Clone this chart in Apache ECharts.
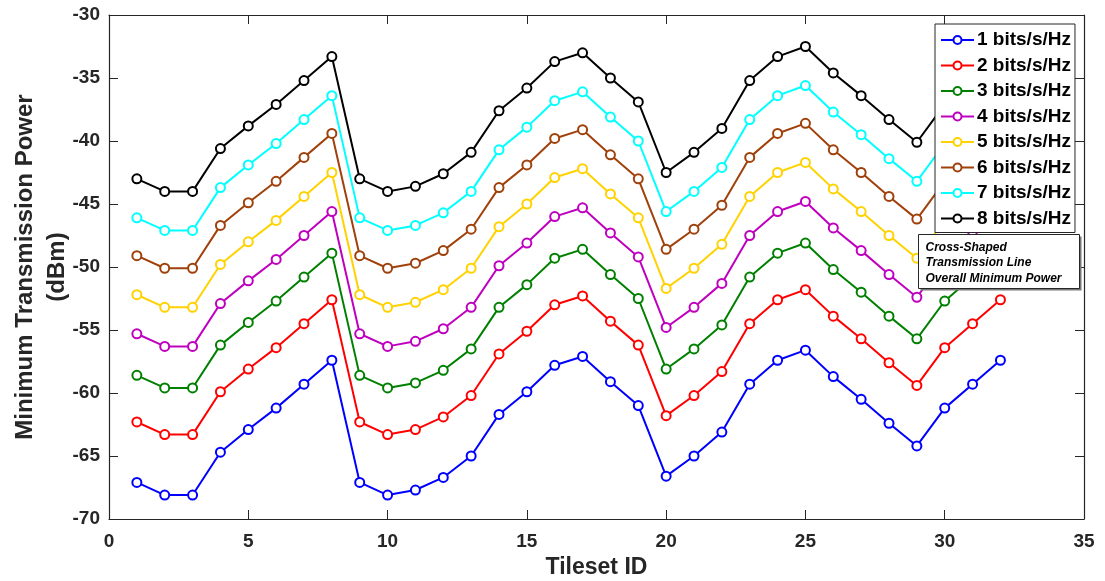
<!DOCTYPE html>
<html>
<head>
<meta charset="utf-8">
<script src="https://cdn.jsdelivr.net/npm/echarts@6/dist/echarts.min.js"></script>
<style>html,body{margin:0;padding:0;background:#fff;}#chart{width:1105px;height:581px;}</style>
</head>
<body>
<div id="chart"></div>
<script>
const tileIds = [1,2,3,4,5,6,7,8,9,10,11,12,13,14,15,16,17,18,19,20,21,22,23,24,25,26,27,28,29,30,31,32];
const seriesNames = ['1 bits/s/Hz','2 bits/s/Hz','3 bits/s/Hz','4 bits/s/Hz','5 bits/s/Hz','6 bits/s/Hz','7 bits/s/Hz','8 bits/s/Hz'];
const rate1 = [-67.1,-68.1,-68.1,-64.7,-62.9,-61.2,-59.3,-57.4,-67.1,-68.1,-67.7,-66.7,-65.0,-61.7,-59.9,-57.8,-57.1,-59.1,-61.0,-66.6,-65.0,-63.1,-59.3,-57.4,-56.6,-58.7,-60.5,-62.4,-64.2,-61.2,-59.3,-57.4];
const rate2 = [-62.3,-63.3,-63.3,-59.9,-58.1,-56.4,-54.5,-52.6,-62.3,-63.3,-62.9,-61.9,-60.2,-56.9,-55.1,-53.0,-52.3,-54.3,-56.2,-61.8,-60.2,-58.3,-54.5,-52.6,-51.8,-53.9,-55.7,-57.6,-59.4,-56.4,-54.5,-52.6];
const rate3 = [-58.6,-59.6,-59.6,-56.2,-54.4,-52.7,-50.8,-48.9,-58.6,-59.6,-59.2,-58.2,-56.5,-53.2,-51.4,-49.3,-48.6,-50.6,-52.5,-58.1,-56.5,-54.6,-50.8,-48.9,-48.1,-50.2,-52.0,-53.9,-55.7,-52.7,-50.8,-48.9];
const rate4 = [-55.3,-56.3,-56.3,-52.9,-51.1,-49.4,-47.5,-45.6,-55.3,-56.3,-55.9,-54.9,-53.2,-49.9,-48.1,-46.0,-45.3,-47.3,-49.2,-54.8,-53.2,-51.3,-47.5,-45.6,-44.8,-46.9,-48.7,-50.6,-52.4,-49.4,-47.5,-45.6];
const rate5 = [-52.2,-53.2,-53.2,-49.8,-48.0,-46.3,-44.4,-42.5,-52.2,-53.2,-52.8,-51.8,-50.1,-46.8,-45.0,-42.9,-42.2,-44.2,-46.1,-51.7,-50.1,-48.2,-44.4,-42.5,-41.7,-43.8,-45.6,-47.5,-49.3,-46.3,-44.4,-42.5];
const rate6 = [-49.1,-50.1,-50.1,-46.7,-44.9,-43.2,-41.3,-39.4,-49.1,-50.1,-49.7,-48.7,-47.0,-43.7,-41.9,-39.8,-39.1,-41.1,-43.0,-48.6,-47.0,-45.1,-41.3,-39.4,-38.6,-40.7,-42.5,-44.4,-46.2,-43.2,-41.3,-39.4];
const rate7 = [-46.1,-47.1,-47.1,-43.7,-41.9,-40.2,-38.3,-36.4,-46.1,-47.1,-46.7,-45.7,-44.0,-40.7,-38.9,-36.8,-36.1,-38.1,-40.0,-45.6,-44.0,-42.1,-38.3,-36.4,-35.6,-37.7,-39.5,-41.4,-43.2,-40.2,-38.3,-36.4];
const rate8 = [-43.0,-44.0,-44.0,-40.6,-38.8,-37.1,-35.2,-33.3,-43.0,-44.0,-43.6,-42.6,-40.9,-37.6,-35.8,-33.7,-33.0,-35.0,-36.9,-42.5,-40.9,-39.0,-35.2,-33.3,-32.5,-34.6,-36.4,-38.3,-40.1,-37.1,-35.2,-33.3];
const annotationLines = ['Cross-Shaped','Transmission Line','Overall Minimum Power'];

const allRates = [rate1,rate2,rate3,rate4,rate5,rate6,rate7,rate8];
const colors = ['#0000FF','#FF0000','#008000','#BF00BF','#FFD200','#A0400A','#00FFFF','#000000'];
const axisColor = '#262626';
const font = '"Liberation Sans", Arial, sans-serif';

const chart = echarts.init(document.getElementById('chart'), null, {renderer:'canvas'});

const series = allRates.map((vals, i) => ({
  name: seriesNames[i],
  type: 'line',
  data: tileIds.map((x, j) => [x, vals[j]]),
  symbol: 'emptyCircle',
  symbolSize: 9,
  showAllSymbol: true,
  z: 2,
  lineStyle: {color: colors[i], width: 2},
  itemStyle: {color: colors[i], borderColor: colors[i], borderWidth: 2},
  emphasis: {disabled: true},
  animation: false
}));

const tickStyle = {show: true, inside: true, length: 9, lineStyle: {color: axisColor, width: 1}};
const lineStyleAxis = {show: true, onZero: false, lineStyle: {color: axisColor, width: 1.2}};

chart.setOption({
  backgroundColor: '#fff',
  animation: false,
  textStyle: {fontFamily: font},
  grid: {left: 109, right: 21, top: 15, bottom: 62, containLabel: false, outerBoundsMode: 'none'},
  xAxis: [{
    type: 'value', min: 0, max: 35, interval: 5, position: 'bottom',
    axisLine: lineStyleAxis, axisTick: tickStyle, splitLine: {show: false},
    axisLabel: {color: axisColor, fontSize: 19, fontWeight: 'bold', fontFamily: font, margin: 13},
    name: 'Tileset ID', nameLocation: 'middle', nameGap: 34,
    nameTextStyle: {color: axisColor, fontSize: 23, fontWeight: 'bold', fontFamily: font}
  }, {
    type: 'value', min: 0, max: 35, interval: 5, position: 'top',
    axisLine: lineStyleAxis, axisTick: tickStyle, splitLine: {show: false},
    axisLabel: {show: false}
  }],
  yAxis: [{
    type: 'value', min: -70, max: -30, interval: 5, position: 'left',
    axisLine: lineStyleAxis, axisTick: tickStyle, splitLine: {show: false},
    axisLabel: {color: axisColor, fontSize: 19, fontWeight: 'bold', fontFamily: font, margin: 9},
    name: 'Minimum Transmission Power\n(dBm)', nameLocation: 'middle', nameGap: 36, nameRotate: 90,
    nameMoveOverlap: false,
    nameTextStyle: {color: axisColor, fontSize: 24, fontWeight: 'bold', fontFamily: font, lineHeight: 32, align: 'center'}
  }, {
    type: 'value', min: -70, max: -30, interval: 5, position: 'right',
    axisLine: lineStyleAxis, axisTick: tickStyle, splitLine: {show: false},
    axisLabel: {show: false}
  }],
  legend: {
    orient: 'vertical', left: 935, top: 24,
    padding: [6, 4, 4, 5],
    itemWidth: 33, itemHeight: 10, itemGap: 5.5,
    backgroundColor: '#fff', borderColor: axisColor, borderWidth: 1,
    z: 10,
    selectedMode: false,
    data: seriesNames,
    textStyle: {color: '#000', fontSize: 19, fontWeight: 'bold', fontFamily: font, lineHeight: 20, padding: [0,0,0,-2]}
  },
  graphic: [{
    type: 'group', left: 918, top: 234, z: 20,
    children: [
      {type: 'rect', shape: {x: 2, y: 2, width: 161, height: 54}, style: {fill: '#777'}, z: 20},
      {type: 'rect', shape: {x: 0, y: 0, width: 161, height: 54}, style: {fill: '#fff', stroke: axisColor, lineWidth: 1}, z: 21},
      {type: 'text', left: 7, top: 5, z: 22, style: {text: annotationLines.join('\n'), fill: '#000', font: 'italic bold 12px ' + font, lineHeight: 15.5}}
    ]
  }],
  series: series
});
</script>
</body>
</html>
